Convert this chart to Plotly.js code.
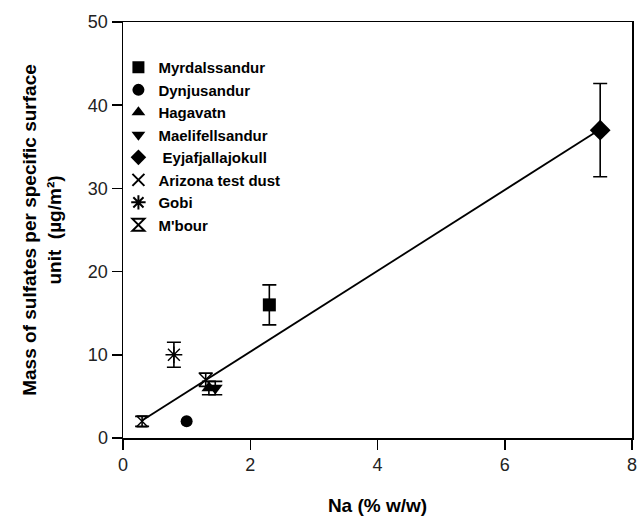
<!DOCTYPE html>
<html>
<head>
<meta charset="utf-8">
<script src="https://cdn.plot.ly/plotly-3.0.1.min.js"></script>
<style>html,body{margin:0;padding:0;background:#fff;}#chart{width:640px;height:516px;}</style>
</head>
<body>
<div id="chart"></div>
<script>
// Data
const names = ["Myrdalssandur", "Dynjusandur", "Hagavatn", "Maelifellsandur", " Eyjafjallajokull", "Arizona test dust", "Gobi", "M'bour"];
const naValues = [2.3, 1.0, 1.35, 1.45, 7.5, 1.3, 0.8, 0.3];
const sulfateValues = [16.0, 2.0, 6.0, 6.0, 37.0, 7.0, 10.0, 2.0];
const sulfateErrors = [2.4, 0, 0.8, 0.8, 5.6, 0.8, 1.5, 0.6];
const symbols = ["square", "circle", "triangle-up", "triangle-down", "diamond", "x-thin-open", "asterisk-open", "hourglass-open"];
const markerSizes = [13, 12, 13, 13, 16, 13, 14, 11];
const fitX = [0.3, 7.5];
const fitY = [2.1, 37.1];
const xTicks = [0, 2, 4, 6, 8];
const yTicks = [0, 10, 20, 30, 40, 50];

const FONT = "Arial, 'Liberation Sans', sans-serif";

const traces = [{
  x: fitX, y: fitY, mode: "lines", type: "scatter",
  line: {color: "#000", width: 1.8}, showlegend: false, hoverinfo: "skip"
}];

names.forEach((n, i) => {
  const open = symbols[i].endsWith("-open");
  traces.push({
    x: [naValues[i]], y: [sulfateValues[i]], name: n,
    mode: "markers", type: "scatter",
    marker: {
      symbol: symbols[i], size: markerSizes[i], color: "#000",
      line: {color: "#000", width: open ? 1.4 : 0}
    },
    error_y: {type: "data", array: [sulfateErrors[i]], visible: sulfateErrors[i] > 0,
              color: "#000", thickness: 1.6, width: 7}
  });
});

const layout = {
  width: 640, height: 516,
  margin: {l: 123, r: 8, t: 22, b: 78},
  paper_bgcolor: "#fff", plot_bgcolor: "#fff",
  font: {family: FONT, color: "#000", size: 15},
  xaxis: {
    range: [0, 8], tickvals: xTicks, ticktext: xTicks.map(String),
    showgrid: false, zeroline: false, showline: true, mirror: true,
    linecolor: "#000", linewidth: 1.5,
    ticks: "outside", ticklen: 10, tickwidth: 1.5, tickcolor: "#000",
    tickfont: {family: FONT, size: 18, color: "#222"},
    title: {text: "<b>Na (% w/w)</b>", font: {family: FONT, size: 19, color: "#000"}, standoff: 25}
  },
  yaxis: {
    range: [0, 50], tickvals: yTicks, ticktext: yTicks.map(String),
    showgrid: false, zeroline: false, showline: true, mirror: true,
    linecolor: "#000", linewidth: 1.5,
    ticks: "outside", ticklen: 10, tickwidth: 1.5, tickcolor: "#000",
    tickfont: {family: FONT, size: 18, color: "#222"},
    title: {text: "<b>Mass of sulfates per specific surface<br>unit  (µg/m²)</b>", font: {family: FONT, size: 19, color: "#000"}, standoff: 21}
  },
  legend: {
    x: -0.009, y: 0.930, xanchor: "left", yanchor: "top",
    bgcolor: "rgba(0,0,0,0)", borderwidth: 0,
    font: {family: FONT, size: 15, color: "#000", weight: "bold"},
    itemsizing: "constant", tracegroupgap: 0
  },
  showlegend: true
};

Plotly.newPlot("chart", traces, layout, {displayModeBar: false, staticPlot: true});
</script>
</body>
</html>
